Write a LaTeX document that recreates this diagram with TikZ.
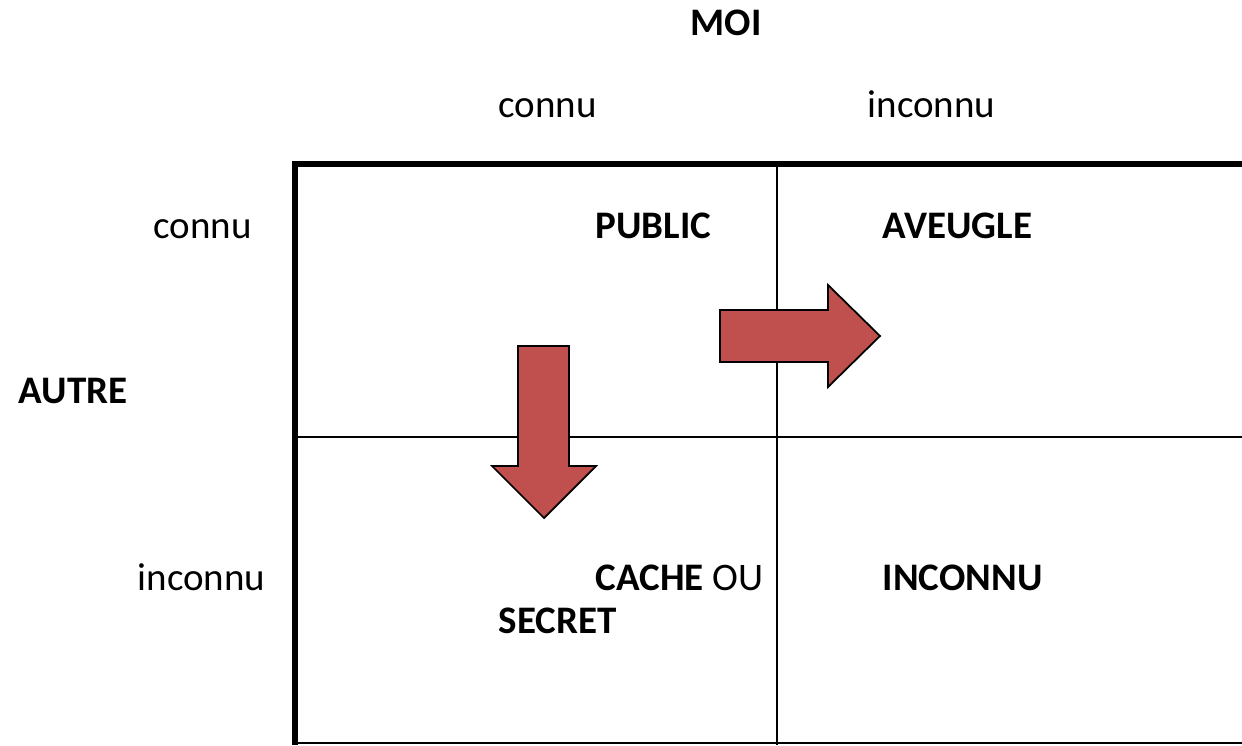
\documentclass[tikz,border=0pt]{standalone}
\usepackage{fontspec}
\setmainfont{Carlito}
\definecolor{arrowred}{RGB}{192, 80, 77}
\usetikzlibrary{positioning}
\tikzset{
  axistext/.style={font=\fontsize{11.1}{13}\selectfont, inner sep=0pt, anchor=base west},
  quadtext/.style={axistext, font=\fontsize{11.1}{13}\selectfont\bfseries},
  gridthick/.style={line width=1.6pt},
  gridthin/.style={line width=0.6pt},
  movearrow/.style={fill=arrowred, draw=black, line width=0.5pt, line join=miter}
}

\begin{document}
\begin{tikzpicture}
  \useasboundingbox (0,0) rectangle (12.42,-7.45);

  % Grid
  \draw[gridthin] (7.77,-1.64) -- (7.77,-7.45);
  \draw[gridthin] (2.95,-4.37) -- (12.42,-4.37);
  \draw[gridthin] (2.95,-7.43) -- (12.42,-7.43);
  \draw[gridthick] (2.95,-7.45) -- (2.95,-1.64) -- (12.42,-1.64);

  % Arrows
  \draw[movearrow] (5.18,-3.46) -- (5.69,-3.46) -- (5.69,-4.66) -- (5.96,-4.66)
    -- (5.44,-5.18) -- (4.92,-4.66) -- (5.18,-4.66) -- cycle;
  \draw[movearrow] (7.20,-3.10) -- (8.28,-3.10) -- (8.28,-2.85) -- (8.80,-3.36)
    -- (8.28,-3.87) -- (8.28,-3.62) -- (7.20,-3.62) -- cycle;

  % Axes
  \node[quadtext] (moi) at (6.90,-0.36) {MOI};
  \node[axistext] (moiconnu) at (4.98,-1.18) {connu};
  \node[axistext] (moiinconnu) at (8.67,-1.18) {inconnu};
  \node[quadtext] (autre) at (0.18,-4.03) {AUTRE};
  \node[axistext] (autreconnu) at (1.53,-2.38) {connu};
  \node[axistext] (autreinconnu) at (1.37,-5.90) {inconnu};

  % Quadrants
  \node[quadtext] (public) at (5.95,-2.38) {PUBLIC};
  \node[quadtext] (aveugle) at (8.82,-2.38) {AVEUGLE};
  \node[quadtext] (cache) at (5.95,-5.90) {CACHE \mdseries OU};
  \node[quadtext] (secret) at (4.98,-6.33) {SECRET};
  \node[quadtext] (inconnu) at (8.82,-5.90) {INCONNU};
\end{tikzpicture}
\end{document}
